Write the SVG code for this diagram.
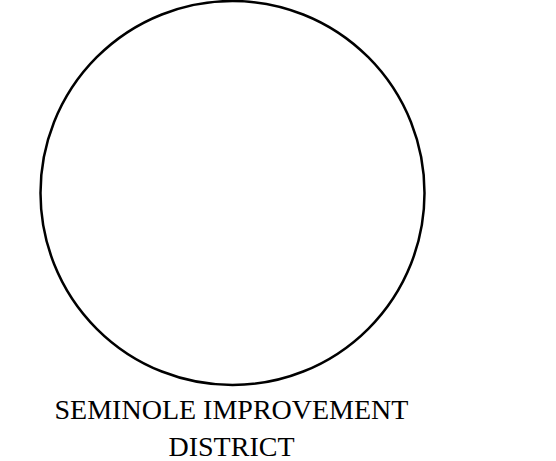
<svg xmlns="http://www.w3.org/2000/svg" width="556" height="461" viewBox="0 0 556 461">
<style>
.lbl{font-family:"Liberation Serif","Times New Roman",serif;font-size:28px;fill:#000;text-anchor:middle}
</style>
<rect width="556" height="461" fill="#fff"/>
<g id="node-district">
<circle cx="232.5" cy="193" r="192" fill="none" stroke="#000" stroke-width="2.5"/>
<text class="lbl" x="231.5" y="419">SEMINOLE IMPROVEMENT</text>
<text class="lbl" x="231.5" y="456">DISTRICT</text>
</g>
<g id="connectors"/>
</svg>
